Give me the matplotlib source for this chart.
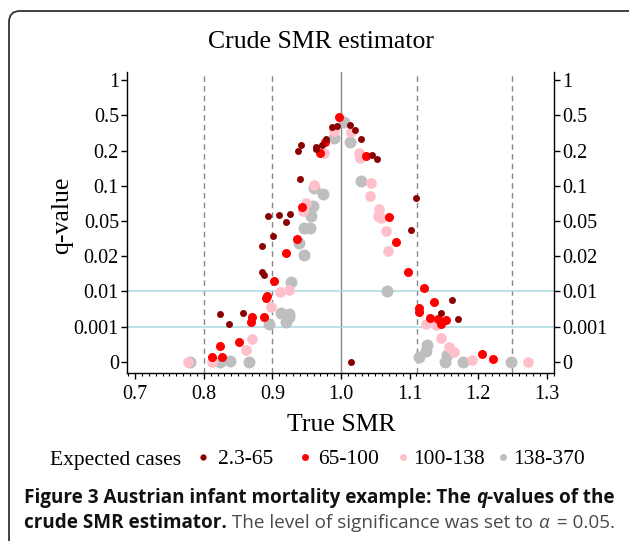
import numpy as np
import matplotlib
matplotlib.use("Agg")
import matplotlib.pyplot as plt
from matplotlib.lines import Line2D
from matplotlib.patches import FancyBboxPatch
from matplotlib.transforms import IdentityTransform

# ---------------- data ----------------
q_ticks = [0, 0.001, 0.01, 0.02, 0.05, 0.1, 0.2, 0.5, 1]
q_tick_labels = ["0", "0.001", "0.01", "0.02", "0.05", "0.1", "0.2", "0.5", "1"]
x_ticks = [0.7, 0.8, 0.9, 1.0, 1.1, 1.2, 1.3]
x_tick_labels = ["0.7", "0.8", "0.9", "1.0", "1.1", "1.2", "1.3"]
ref_lines_dashed = [0.8, 0.9, 1 / 0.9, 1 / 0.8]
ref_line_solid = 1.0
q_thresholds = [0.01, 0.001]

groups = ["2.3-65", "65-100", "100-138", "138-370"]
colors = ["#8B0000", "#FF0000", "#FFC0CB", "#BEBEBE"]

darkred_x = [0.9417, 0.9369, 0.9631, 0.9631, 0.9727, 0.9786, 0.9864, 0.9946, 1.0131, 1.0200,
             1.0287, 1.0448, 1.0529, 0.9398, 0.8931, 0.9096, 0.9252, 0.9194, 0.9004, 0.8844,
             0.8853, 0.8878, 0.8232, 0.8372, 0.8571, 1.0141, 1.1089, 1.1025, 1.1623, 1.1453, 1.1710]
darkred_q = [0.247, 0.199, 0.232, 0.210, 0.250, 0.295, 0.403, 0.410, 0.415, 0.375,
             0.298, 0.187, 0.177, 0.120, 0.0574, 0.0588, 0.0594, 0.049, 0.037, 0.0289,
             0.0154, 0.0147, 0.0041, 0.00156, 0.0045, 0.0, 0.0826, 0.0425, 0.00778, 0.0045, 0.003]

red_x = [0.9975, 0.9694, 0.9774, 0.9431, 0.9359, 0.9194, 0.9019, 0.8912, 0.8922, 0.8878,
         0.8698, 0.8688, 0.8513, 0.8232, 0.8115, 0.8265, 1.0364, 1.0704, 1.0806, 1.0981,
         1.1214, 1.1137, 1.1137, 1.1351, 1.1297, 1.1410, 1.1531, 1.1458, 1.2051, 1.2211]
red_q = [0.488, 0.194, 0.272, 0.070, 0.0343, 0.0229, 0.0129, 0.0084, 0.0087, 0.00335,
         0.00335, 0.00223, 0.00055, 0.00045, 0.000125, 0.00014, 0.1835, 0.056, 0.0323, 0.0156,
         0.0109, 0.00565, 0.0048, 0.00734, 0.00317, 0.00284, 0.00266, 0.00164, 0.00022, 0.00007]

pink_x = [0.9894, 0.9752, 0.9602, 0.9485, 0.9442, 0.9111, 0.9238, 0.8980, 0.8698, 0.8611,
          0.7765, 0.8120, 1.0150, 1.0262, 1.0282, 1.0433, 1.0418, 1.0558, 1.0544, 1.0583,
          1.0660, 1.0680, 1.1239, 1.1385, 1.1462, 1.1570, 1.1643, 1.1905, 1.2730]
pink_q = [0.366, 0.194, 0.102, 0.0759, 0.0645, 0.00975, 0.0104, 0.00607, 0.00064, 0.00032,
          0.0, 0.0, 0.358, 0.192, 0.178, 0.107, 0.085, 0.0674, 0.057, 0.054,
          0.0417, 0.0246, 0.00164, 0.00139, 0.00067, 0.00041, 0.00027, 0.00005, 0.0]

gray_x = [1.0048, 0.9902, 1.0131, 0.9611, 0.9742, 0.9597, 0.9558, 0.9465, 0.9548, 0.9383,
          0.9465, 0.9267, 0.9121, 0.9246, 0.9203, 0.9246, 0.8955, 0.7799, 0.8241, 0.8382,
          0.8663, 1.0292, 1.0671, 1.1141, 1.1235, 1.1258, 1.1516, 1.1550, 1.1774, 1.2478]
gray_q = [0.44, 0.304, 0.275, 0.0963, 0.0887, 0.0712, 0.0574, 0.0437, 0.0442, 0.0312,
          0.0212, 0.0127, 0.00453, 0.0042, 0.0022, 0.0035, 0.00172, 0.0, 0.0, 0.00002,
          0.0, 0.114, 0.0101, 0.00014, 0.00031, 0.00047, 0.0, 0.00019, 0.0, 0.0]

# ---------------- q-value scale (equally spaced tick levels) ----------------
_pos = np.arange(len(q_ticks), dtype=float)
_q = np.array(q_ticks, dtype=float)


def q_forward(q):
    q = np.asarray(q, dtype=float)
    p = np.interp(q, _q, _pos)
    p = np.where(q < 0, q / 0.001, p)
    p = np.where(q > 1, 8 + (q - 1) / 0.5, p)
    return p


def q_inverse(p):
    p = np.asarray(p, dtype=float)
    q = np.interp(p, _pos, _q)
    q = np.where(p < 0, p * 0.001, q)
    q = np.where(p > 8, 1 + (p - 8) * 0.5, q)
    return q


serif = ["Liberation Serif", "DejaVu Serif"]
W, H = 629, 541
fig = plt.figure(figsize=(W / 100, H / 100), dpi=100)
fig.patch.set_facecolor("white")

# frame with rounded corners (open to the right/bottom edge)
frame = FancyBboxPatch((9, -30), 660, H - 11 + 30,
                       boxstyle="round,pad=0,rounding_size=11",
                       transform=IdentityTransform(), fill=False,
                       edgecolor="#333333", linewidth=1.3)
fig.patches.append(frame)

ax = fig.add_axes([127.3 / W, 1 - 372.7 / H, (554 - 127.3) / W, (372.7 - 71.7) / H])
ax.set_yscale("function", functions=(q_forward, q_inverse))
ax.set_xlim(0.6885, 1.3105)
ax.set_ylim(-0.0003125, 1.1195)

for xv in ref_lines_dashed:
    ax.axvline(xv, color="#888888", lw=1.0, ls=(0, (4, 3)), zorder=1)
ax.axvline(ref_line_solid, color="#888888", lw=1.0, zorder=1)
for qv in q_thresholds:
    ax.axhline(qv, color="#A9DAE3", lw=1.1, zorder=1)

series = [(gray_x, gray_q, colors[3], 8.6),
          (pink_x, pink_q, colors[2], 7.7),
          (red_x, red_q, colors[1], 6.5),
          (darkred_x, darkred_q, colors[0], 5.0)]
for xs, qs, c, ms in series:
    ax.plot(xs, qs, ls="none", marker="o", ms=ms, mfc=c, mec="none", zorder=3)

ax.set_xticks(x_ticks)
ax.set_xticklabels(x_tick_labels, family=serif, fontsize=14.5)
ax.set_xticks(np.round(np.arange(0.69, 1.311, 0.01), 2), minor=True)
ax.set_yticks(q_ticks)
ax.set_yticklabels(q_tick_labels, family=serif, fontsize=14.5)
ax.yaxis.set_minor_locator(matplotlib.ticker.NullLocator())
ax.tick_params(axis="x", which="major", length=4.5, width=1.0, pad=4, direction="out")
ax.tick_params(axis="x", which="minor", length=2.5, width=0.8, direction="out")
ax.tick_params(axis="y", which="major", length=4, width=1.0, pad=2,
               left=True, right=True, labelleft=True, labelright=True)
for lab in ax.get_yticklabels(which="both"):
    lab.set_family(serif)
ax.spines["top"].set_visible(False)
for s in ["left", "right", "bottom"]:
    ax.spines[s].set_linewidth(1.0)
ax.set_facecolor("none")

# titles
fig.text(321 / W, 1 - 42 / H, "Crude SMR estimator", family=serif, fontsize=18.5,
         ha="center", va="center")
fig.text(341 / W, 1 - 425 / H, "True SMR", family=serif, fontsize=18.5,
         ha="center", va="center")
fig.text(62 / W, 1 - 215 / H, "q-value", family=serif, fontsize=18.5,
         ha="center", va="center", rotation=90)

# legend row
ly = 1 - 460 / H
fig.text(50 / W, ly, "Expected cases", family=serif, fontsize=15.5, ha="left", va="center")
leg_marker_x = [203, 305, 403, 503]
leg_text_x = [218, 318, 413, 513]
leg_ms = [4.5, 5.0, 5.0, 5.0]
for mx, tx, lab, c, ms in zip(leg_marker_x, leg_text_x, groups, colors, leg_ms):
    fig.add_artist(Line2D([mx / W], [1 - 457 / H], transform=fig.transFigure,
                          ls="none", marker="o", ms=ms, mfc=c, mec="none"))
    fig.text(tx / W, ly, lab, family=serif, fontsize=15.5, ha="left", va="center")

# caption (pieces chained by measured widths)
cap_family = ["Open Sans", "DejaVu Sans"]
renderer = fig.canvas.get_renderer()


def chain(pieces, x0, y0, fs):
    x = x0
    for txt, weight, style, col, gap in pieces:
        t = fig.text(x / W, 1 - y0 / H, txt, family=cap_family, fontsize=fs,
                     weight=weight, style=style, color=col, ha="left", va="center")
        bb = t.get_window_extent(renderer=renderer)
        x += bb.width + gap
    return x


line1 = [("Figure 3 Austrian infant mortality example: The ", "bold", "normal", "#111111", 0),
         ("q", "bold", "italic", "#111111", 0),
         ("-values of the", "bold", "normal", "#111111", 0)]
line2 = [("crude SMR estimator.", "bold", "normal", "#111111", 0),
         (" The level of significance was set to ", "normal", "normal", "#4a4a4a", 0),
         ("α", "normal", "italic", "#4a4a4a", 3),
         (" = 0.05.", "normal", "normal", "#4a4a4a", 0)]

# measure line1 at a probe size to fit the target width
probe = 12.0
tmp = []
wsum = 0
for txt, weight, style, col, gap in line1:
    t = fig.text(0, 0, txt, family=cap_family, fontsize=probe, weight=weight, style=style)
    wsum += t.get_window_extent(renderer=renderer).width
    tmp.append(t)
for t in tmp:
    t.remove()
cap_fs = probe * (614 - 24) / wsum

chain(line1, 24, 498, cap_fs)
chain(line2, 24, 523, cap_fs)

fig.savefig("out.png", dpi=100)
